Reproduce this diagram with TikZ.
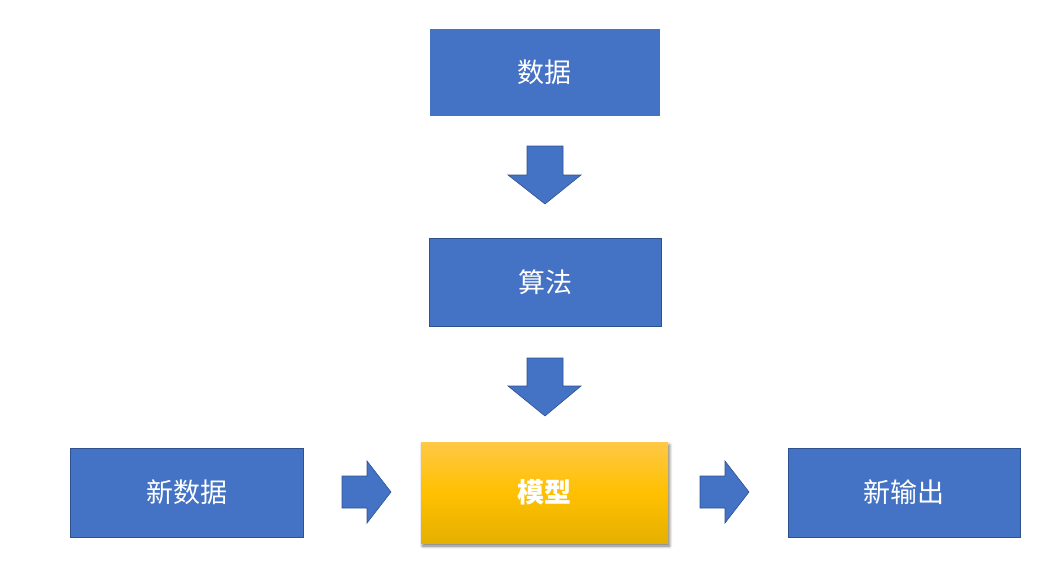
\documentclass[tikz,border=0pt]{standalone}
\usepackage{fontspec}
\newfontfamily\cjk{Noto Sans CJK SC}
\usetikzlibrary{shadows,shadows.blur}
\definecolor{boxblue}{HTML}{4472C4}
\definecolor{edgeblue}{HTML}{2F528F}
\definecolor{goldtop}{HTML}{FFC846}
\definecolor{goldmid}{HTML}{FFC000}
\definecolor{goldbot}{HTML}{E5B000}
\begin{document}
\begin{tikzpicture}[x=1pt,y=-1pt,
  bluebox/.style={draw=edgeblue, line width=0.6pt, fill=boxblue, text=white,
    font=\cjk\fontsize{27}{32}\selectfont},
  blockarrow/.style={draw=edgeblue, line width=0.6pt, fill=boxblue, line join=miter}]
\useasboundingbox (0,0) rectangle (1052,584);
% top chain
\node[bluebox, draw=boxblue, minimum width=229pt, minimum height=86pt] (data) at (544.5,72) {数据};
\node[bluebox, minimum width=232pt, minimum height=88pt] (algo) at (545,282) {算法};
% model with gold gradient and soft shadow
\node[minimum width=247pt, minimum height=101pt, text=white,
  top color=goldtop, bottom color=goldbot, middle color=goldmid,
  blur shadow={shadow xshift=1.5pt, shadow yshift=-3pt, shadow blur steps=6,
    shadow blur radius=3pt, shadow opacity=55},
  font=\cjk\bfseries\fontsize{27}{32}\selectfont] (model) at (544.5,492.5) {模型};
\node[bluebox, minimum width=233pt, minimum height=89pt] (newdata) at (186.5,492.5) {新数据};
\node[bluebox, minimum width=232pt, minimum height=89pt] (newout) at (904,492.5) {新输出};
% down arrows between boxes
\draw[blockarrow] (527,146) -- (563,146) -- (563,175) -- (581,175) -- (545,204)
  -- (508,175) -- (527,175) -- cycle;
\draw[blockarrow] (527,358) -- (563,358) -- (563,386) -- (581,386) -- (545,416)
  -- (508,386) -- (527,386) -- cycle;
% right arrows into and out of the model
\draw[blockarrow] (342,476) -- (367,476) -- (367,461) -- (391,492) -- (367,523)
  -- (367,508) -- (342,508) -- cycle;
\draw[blockarrow] (700,476) -- (725,476) -- (725,461) -- (749,492) -- (725,523)
  -- (725,508) -- (700,508) -- cycle;
\end{tikzpicture}
\end{document}
